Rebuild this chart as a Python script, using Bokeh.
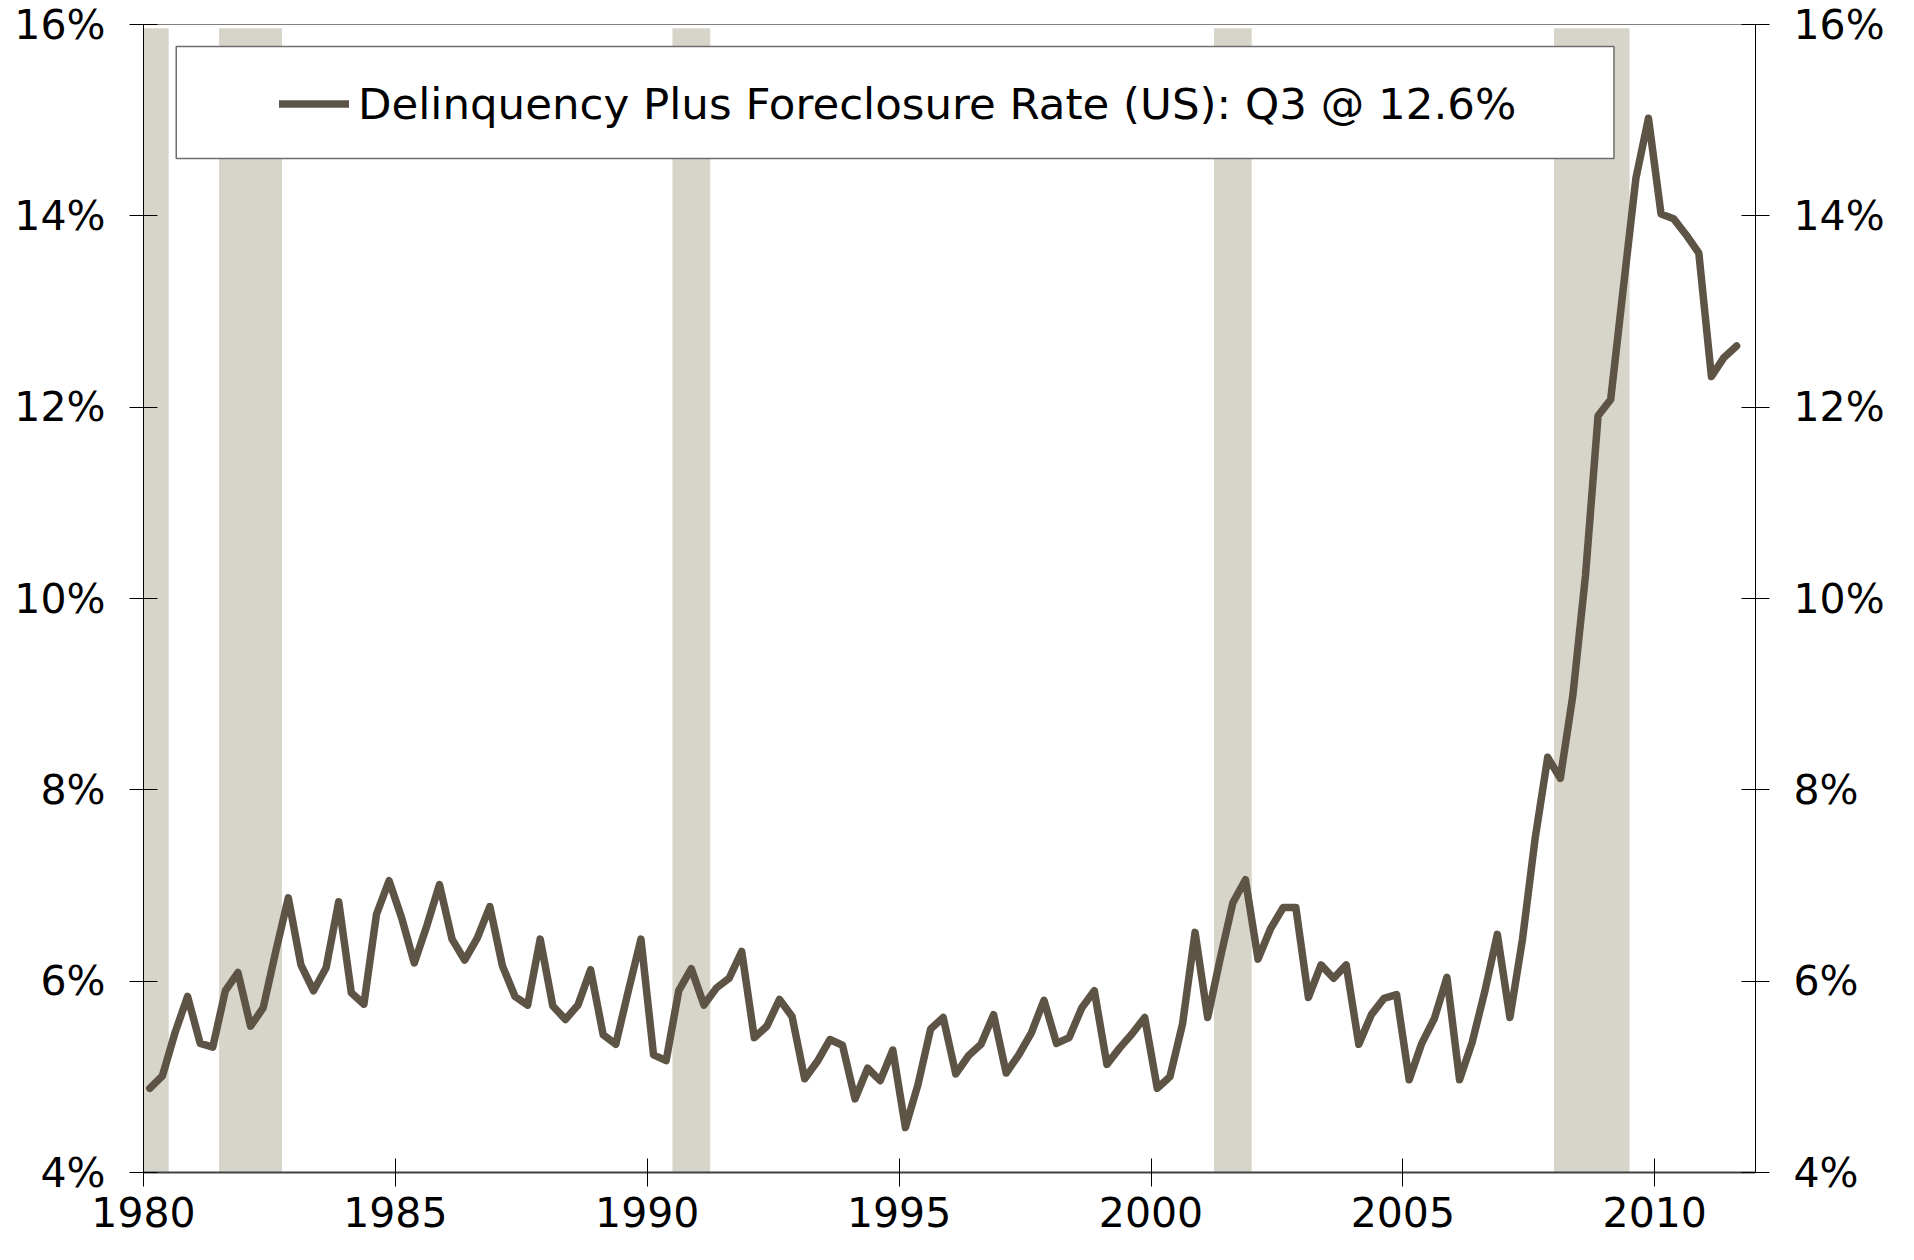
from bokeh.plotting import figure
from bokeh.models import (Range1d, LinearAxis, FixedTicker, PrintfTickFormatter,
                          Legend, LegendItem, ColumnDataSource)
from bokeh.embed import file_html
from bokeh.resources import INLINE

# Quarterly delinquency plus foreclosure rate (%), 1980Q1 .. 2011Q3
start_year = 1980
rates = [
    4.88, 5.01, 5.46, 5.84,   # 1980
    5.35, 5.31, 5.90, 6.09,   # 1981
    5.53, 5.72, 6.31, 6.87,   # 1982
    6.17, 5.90, 6.14, 6.83,   # 1983
    5.88, 5.76, 6.70, 7.05,   # 1984
    6.66, 6.19, 6.58, 7.01,   # 1985
    6.44, 6.22, 6.45, 6.78,   # 1986
    6.16, 5.84, 5.75, 6.44,   # 1987
    5.74, 5.60, 5.75, 6.12,   # 1988
    5.44, 5.34, 5.90, 6.44,   # 1989
    5.23, 5.17, 5.90, 6.13,   # 1990
    5.75, 5.93, 6.03, 6.31,   # 1991
    5.41, 5.53, 5.81, 5.63,   # 1992
    4.98, 5.16, 5.39, 5.33,   # 1993
    4.77, 5.09, 4.96, 5.28,   # 1994
    4.47, 4.92, 5.50, 5.62,   # 1995
    5.03, 5.22, 5.34, 5.65,   # 1996
    5.04, 5.23, 5.46, 5.80,   # 1997
    5.35, 5.41, 5.72, 5.90,   # 1998
    5.13, 5.30, 5.45, 5.62,   # 1999
    4.88, 5.00, 5.55, 6.51,   # 2000
    5.62, 6.24, 6.82, 7.06,   # 2001
    6.23, 6.55, 6.77, 6.77,   # 2002
    5.83, 6.17, 6.03, 6.17,   # 2003
    5.34, 5.65, 5.82, 5.86,   # 2004
    4.97, 5.35, 5.61, 6.04,   # 2005
    4.97, 5.36, 5.89, 6.49,   # 2006
    5.62, 6.44, 7.49, 8.34,   # 2007
    8.12, 8.99, 10.24, 11.91, # 2008
    12.08, 13.24, 14.39, 15.02, # 2009
    14.02, 13.97, 13.80, 13.61, # 2010
    12.32, 12.52, 12.64,      # 2011
]
quarter_time = [start_year + (i + 0.5) / 4 for i in range(len(rates))]

# Recessions (shaded)
rec_start = [1980.0, 1981.5, 1990.5, 2001.25, 2008.0]
rec_end = [1980.5, 1982.75, 1991.25, 2002.0, 2009.5]

x_ticks = [1980, 1985, 1990, 1995, 2000, 2005, 2010]
y_ticks = [4, 6, 8, 10, 12, 14, 16]
legend_label = "Delinquency Plus Foreclosure Rate (US): Q3 @ 12.6%"

FONT = "DejaVu Sans"
LINE_COLOR = "#5e5446"
BAND_COLOR = "#d7d4c9"

p = figure(width=1898, height=1244, output_backend="svg", toolbar_location=None,
           x_range=Range1d(1980, 2012), y_range=Range1d(4, 16),
           min_border_left=143, min_border_right=143,
           min_border_top=24, min_border_bottom=72)
p.xgrid.visible = False
p.ygrid.visible = False
p.outline_line_color = "#808080"
p.outline_line_width = 1
p.background_fill_color = "white"
p.border_fill_color = "white"

# recession bands
p.quad(left=rec_start, right=rec_end, bottom=4, top=15.96,
       fill_color=BAND_COLOR, line_color=None)

# main line
src = ColumnDataSource(dict(t=quarter_time, r=rates))
line_r = p.line("t", "r", source=src, line_color=LINE_COLOR, line_width=7.5,
                line_join="round", line_cap="round")

# legend box (white, covers bands)
p.quad(left=[1980.65], right=[2009.19], bottom=[14.60], top=[15.77],
       fill_color="white", line_color="#6e6e6e", line_width=1.5)

legend = Legend(items=[LegendItem(label=legend_label, renderers=[line_r])],
                location=(136, 1043), padding=0, margin=0,
                glyph_width=70, glyph_height=51, label_height=51,
                label_standoff=9, spacing=0,
                border_line_alpha=0, background_fill_alpha=0,
                label_text_font=FONT, label_text_font_size="43.5px",
                label_text_color="black")
p.add_layout(legend, "center")

# axes
def style_y(ax):
    ax.ticker = FixedTicker(ticks=y_ticks)
    ax.formatter = PrintfTickFormatter(format="%d%%")
    ax.major_tick_in = 14
    ax.major_tick_out = 14
    ax.minor_tick_line_color = None
    ax.axis_line_color = "black"
    ax.axis_line_width = 1
    ax.major_tick_line_color = "black"
    ax.major_label_text_font = FONT
    ax.major_label_text_font_size = "41px"
    ax.major_label_text_color = "black"
    ax.major_label_standoff = 24

style_y(p.yaxis[0])
right_ax = LinearAxis()
style_y(right_ax)
p.add_layout(right_ax, "right")

xa = p.xaxis[0]
xa.ticker = FixedTicker(ticks=x_ticks)
xa.major_tick_in = 14
xa.major_tick_out = 14
xa.minor_tick_line_color = None
xa.axis_line_color = "#404040"
xa.axis_line_width = 2
xa.major_tick_line_color = "black"
xa.major_label_text_font = FONT
xa.major_label_text_font_size = "41px"
xa.major_label_text_color = "black"
xa.major_label_standoff = 10

open("out.html", "w").write(file_html(p, INLINE))
